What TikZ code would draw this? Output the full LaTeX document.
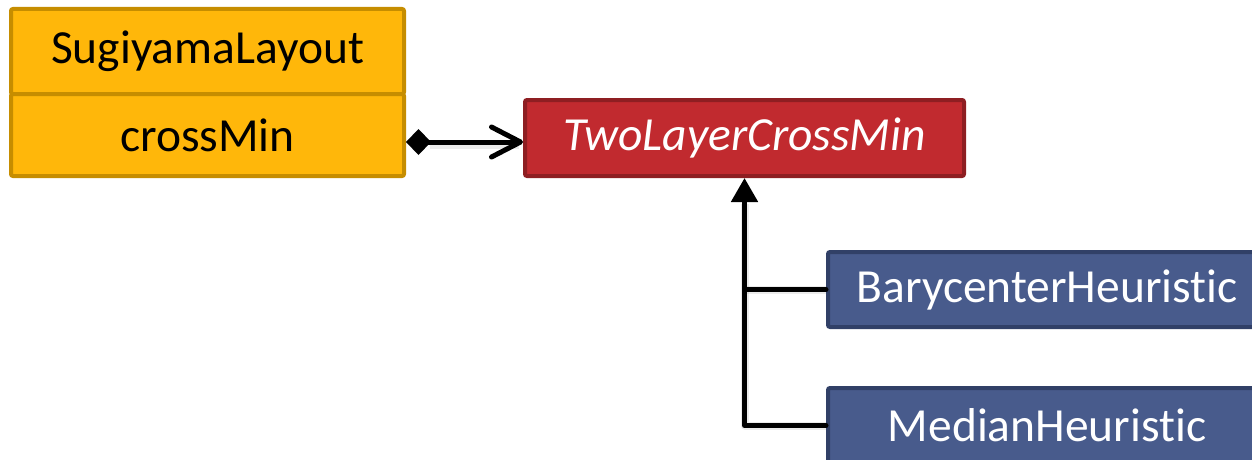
\documentclass[tikz,border=0pt]{standalone}
\usepackage{fontspec}
\setmainfont{Carlito}[Ligatures=NoCommon]
\usetikzlibrary{arrows.meta}
\definecolor{classorange}{RGB}{255,183,10}
\definecolor{classorangeedge}{RGB}{198,141,0}
\definecolor{abstractred}{RGB}{193,42,47}
\definecolor{abstractrededge}{RGB}{142,30,34}
\definecolor{heurblue}{RGB}{72,91,140}
\definecolor{heurblueedge}{RGB}{49,64,103}
\begin{document}
\begin{tikzpicture}[x=1pt,y=-1pt,
  box/.style={rectangle, rounded corners=2pt, line width=4pt, inner sep=0pt,
    font=\fontsize{47.5}{57}\selectfont},
  orangebox/.style={box, fill=classorange, draw=classorangeedge, text=black,
    minimum width=393pt},
  redbox/.style={box, fill=abstractred, draw=abstractrededge, text=white,
    font=\fontsize{47.5}{57}\selectfont\itshape,
    minimum width=439pt, minimum height=76pt},
  bluebox/.style={box, fill=heurblue, draw=heurblueedge, text=white,
    minimum width=438pt, minimum height=75pt},
  link/.style={line width=5pt, line join=round, line cap=round},
  linkshadow/.style={line width=8pt, line join=round, draw=black,
    draw opacity=0.08, shift={(2,3)}},
]
\useasboundingbox (0,0) rectangle (1252,460);

% class SugiyamaLayout with its crossMin member
\node[orangebox, minimum height=85pt] (sugi) at (207.5,51.5) {SugiyamaLayout};
\node[orangebox, minimum height=82pt] (crossmin) at (207.5,135) {crossMin};

% abstract two-layer crossing minimisation
\node[redbox] (twolayer) at (744.5,138) {TwoLayerCrossMin};

% concrete heuristics
\node[bluebox] (bary) at (1047,289.5) {BarycenterHeuristic};
\node[bluebox] (median) at (1047,425.5) {MedianHeuristic};

% soft shadows under the connectors
\draw[linkshadow] ([xshift=24pt]crossmin.east |- 0,142) -- ([xshift=-4pt]twolayer.west |- 0,142);
\draw[linkshadow] (median.west) -| ([yshift=-26pt]twolayer.south);
\draw[linkshadow] (bary.west) -- (bary.west -| twolayer.south);

% composition: crossMin holds a TwoLayerCrossMin
\draw[link, {Diamond[length=25pt,width=26pt]}-{Straight Barb[length=29pt,width=30pt,round]}]
  (crossmin.east |- 0,142) -- (twolayer.west |- 0,142);

% inheritance of both heuristics
\draw[link, -{Triangle[length=24pt,width=26pt]}] (median.west) -| (twolayer.south);
\draw[link] (bary.west) -- (bary.west -| twolayer.south);
\end{tikzpicture}
\end{document}
